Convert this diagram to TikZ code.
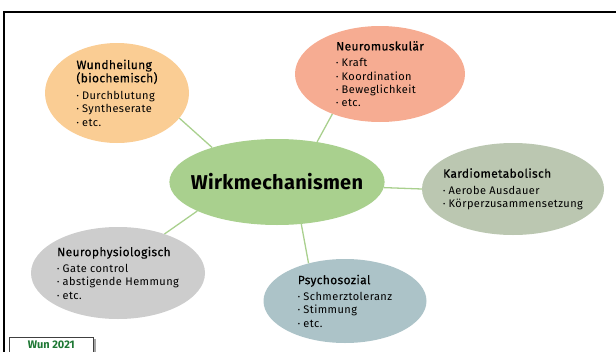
\documentclass[tikz,border=0pt]{standalone}
\usepackage{fontspec}
\setmainfont{Fira Sans}
\newfontfamily\headfont[FakeBold=0.5, LetterSpace=3]{Fira Sans}
\usetikzlibrary{shapes.geometric}
\definecolor{wundcol}{RGB}{250,205,148}
\definecolor{neuromcol}{RGB}{246,172,146}
\definecolor{wirkcol}{RGB}{169,208,142}
\definecolor{kardiocol}{RGB}{187,199,177}
\definecolor{neurophcol}{RGB}{205,205,205}
\definecolor{psychocol}{RGB}{172,195,200}
\definecolor{wungreen}{RGB}{30,120,52}
\tikzset{
    bubble/.style={ellipse, inner sep=-10pt, align=left, font=\fontsize{11}{13.3}\selectfont\addfontfeatures{LetterSpace=4}},
    link/.style={draw=wirkcol, line width=1.3pt},
}
\newcommand{\head}[1]{{\headfont\fontsize{12}{12.5}\selectfont #1}}
\newcommand{\bul}{\raisebox{1pt}{\scriptsize\textbullet}\ }
\begin{document}
\begin{tikzpicture}[x=1pt, y=-1pt]
    \useasboundingbox (0,0) rectangle (616,351);
    % Frame
    \draw[line width=2pt] (4,355) -- (4,12) -- (620,12);

    % Center
    \node[bubble, fill=wirkcol, minimum width=214pt, minimum height=86pt,
          font=\bfseries\fontsize{20}{24}\selectfont\addfontfeatures{LetterSpace=1.5}] (wirk) at (277,182) {Wirkmechanismen};

    % Mechanisms
    \node[bubble, fill=wundcol, minimum width=144pt, minimum height=100pt] (wund) at (117,93)
        {\head{Wundheilung}\\\head{(biochemisch)}\\[4pt]\bul Durchblutung\\\bul Syntheserate\\\bul etc.};
    \node[bubble, fill=neuromcol, minimum width=170pt, minimum height=96pt] (neurom) at (380,74)
        {\head{Neuromuskulär}\\[3pt]\bul Kraft\\\bul Koordination\\\bul Beweglichkeit\\\bul etc.};
    \node[bubble, fill=kardiocol, minimum width=182pt, minimum height=92pt] (kardio) at (513,189)
        {\head{Kardiometabolisch}\\[3pt]\bul Aerobe Ausdauer\\\bul Körperzusammensetzung};
    \node[bubble, fill=neurophcol, minimum width=174pt, minimum height=92pt] (neuroph) at (118,273)
        {\head{Neurophysiologisch}\\[3pt]\bul Gate control\\\bul abstigende Hemmung\\\bul etc.};
    \node[bubble, fill=psychocol, minimum width=163pt, minimum height=84pt] (psycho) at (345,301)
        {\head{Psychosozial}\\[3pt]\bul Schmerztoleranz\\\bul Stimmung\\\bul etc.};

    % Links
    \draw[link] (wirk.152) -- (wund.-22);
    \draw[link] (wirk.45) -- (neurom.-140);
    \draw[link] (wirk.-3) -- (kardio.180);
    \draw[link] (wirk.-160) -- (neuroph.40);
    \draw[link] (wirk.-60) -- (psycho.134);

    % Source
    \fill[black!35] (93,339) rectangle (95.5,355);
    \node[draw=black!75, line width=0.6pt, fill=white, anchor=north west, minimum width=84pt, minimum height=15pt,
          inner sep=1pt, text=wungreen, font=\bfseries\fontsize{11}{12}\selectfont] (wun) at (9,337) {Wun 2021};
\end{tikzpicture}
\end{document}
